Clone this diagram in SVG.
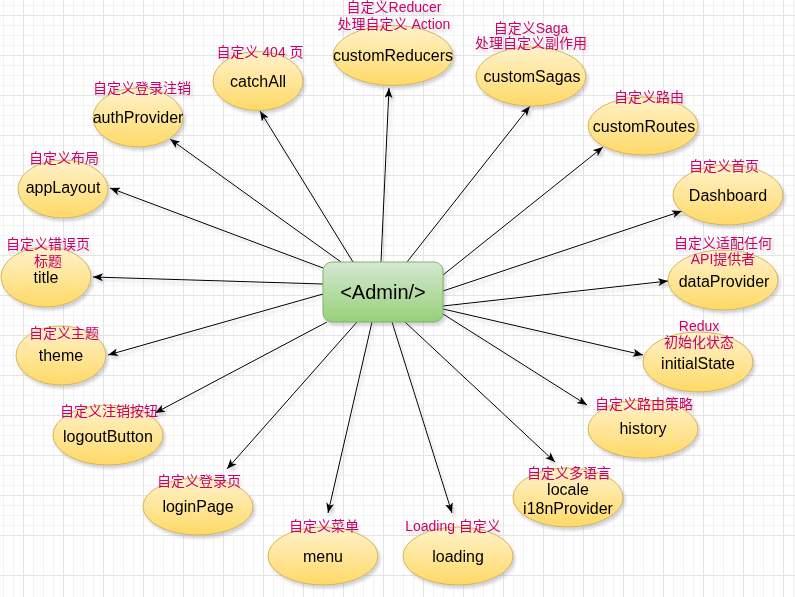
<svg xmlns="http://www.w3.org/2000/svg" width="795" height="597" viewBox="0 0 795 597">
<style>
.el{stroke:#d6b656;stroke-width:1;fill:url(#yg)}
.lbl{font-family:"Liberation Sans",Arial,sans-serif;font-size:16px;fill:#000;text-anchor:middle}
.ann{font-family:"Liberation Sans","Noto Sans CJK SC",sans-serif;font-size:14px;fill:#cc0066;text-anchor:middle}
.edge{stroke:#000;stroke-width:1;fill:none;marker-end:url(#arr)}
.gmin{stroke:#f3f3f3;stroke-width:1;fill:none}
.gmaj{stroke:#e4e4e4;stroke-width:1;fill:none}
</style>
<defs>
<linearGradient id="yg" x1="0" y1="0" x2="0" y2="1">
<stop offset="0" stop-color="#fff2cc"/>
<stop offset="1" stop-color="#ffd966"/>
</linearGradient>
<linearGradient id="gg" x1="0" y1="0" x2="0" y2="1">
<stop offset="0" stop-color="#d5e8d4"/>
<stop offset="1" stop-color="#97d077"/>
</linearGradient>
<filter id="sh" filterUnits="userSpaceOnUse" x="0" y="0" width="795" height="597">
<feGaussianBlur in="SourceAlpha" stdDeviation="1.6"/>
<feOffset dx="2" dy="3" result="b"/>
<feFlood flood-color="#6a6a8a" flood-opacity="0.3"/>
<feComposite in2="b" operator="in"/>
<feMerge><feMergeNode/><feMergeNode in="SourceGraphic"/></feMerge>
</filter>
<marker id="arr" markerUnits="userSpaceOnUse" viewBox="0 0 10 8" refX="10" refY="4" markerWidth="10" markerHeight="8" orient="auto">
<path d="M0,0 L10,4 L0,8 L2.5,4 Z" fill="#000"/>
</marker>
</defs>
<rect width="795" height="597" fill="#fff"/>
<g id="grid">
<path class="gmin" d="M3.5 0v597m10-597v597m10-597v597m10-597v597m10-597v597m10-597v597m10-597v597m10-597v597m10-597v597m10-597v597m10-597v597m10-597v597m10-597v597m10-597v597m10-597v597m10-597v597m10-597v597m10-597v597m10-597v597m10-597v597m10-597v597m10-597v597m10-597v597m10-597v597m10-597v597m10-597v597m10-597v597m10-597v597m10-597v597m10-597v597m10-597v597m10-597v597m10-597v597m10-597v597m10-597v597m10-597v597m10-597v597m10-597v597m10-597v597m10-597v597m10-597v597m10-597v597m10-597v597m10-597v597m10-597v597m10-597v597m10-597v597m10-597v597m10-597v597m10-597v597m10-597v597m10-597v597m10-597v597m10-597v597m10-597v597m10-597v597m10-597v597m10-597v597m10-597v597m10-597v597m10-597v597m10-597v597m10-597v597m10-597v597m10-597v597m10-597v597m10-597v597m10-597v597m10-597v597m10-597v597m10-597v597m10-597v597m10-597v597m10-597v597m10-597v597m10-597v597m10-597v597m10-597v597m10-597v597m10-597v597m10-597v597m10-597v597m10-597v597m10-597v597m10-597v597"/>
<path class="gmin" d="M0 5.5h795m-795 10h795m-795 10h795m-795 10h795m-795 10h795m-795 10h795m-795 10h795m-795 10h795m-795 10h795m-795 10h795m-795 10h795m-795 10h795m-795 10h795m-795 10h795m-795 10h795m-795 10h795m-795 10h795m-795 10h795m-795 10h795m-795 10h795m-795 10h795m-795 10h795m-795 10h795m-795 10h795m-795 10h795m-795 10h795m-795 10h795m-795 10h795m-795 10h795m-795 10h795m-795 10h795m-795 10h795m-795 10h795m-795 10h795m-795 10h795m-795 10h795m-795 10h795m-795 10h795m-795 10h795m-795 10h795m-795 10h795m-795 10h795m-795 10h795m-795 10h795m-795 10h795m-795 10h795m-795 10h795m-795 10h795m-795 10h795m-795 10h795m-795 10h795m-795 10h795m-795 10h795m-795 10h795"/>
<path class="gmaj" d="M23.5 0v597m40-597v597m40-597v597m40-597v597m40-597v597m40-597v597m40-597v597m40-597v597m40-597v597m40-597v597m40-597v597m40-597v597m40-597v597m40-597v597m40-597v597m40-597v597m40-597v597m40-597v597m40-597v597m40-597v597"/>
<path class="gmaj" d="M0 15.5h795m-795 40h795m-795 40h795m-795 40h795m-795 40h795m-795 40h795m-795 40h795m-795 40h795m-795 40h795m-795 40h795m-795 40h795m-795 40h795m-795 40h795m-795 40h795m-795 40h795"/>
</g>

<g id="connectors" filter="url(#sh)">
<line class="edge" x1="323" y1="268" x2="110" y2="188"/>
<line class="edge" x1="341" y1="262" x2="170" y2="139"/>
<line class="edge" x1="353" y1="262" x2="260" y2="111"/>
<line class="edge" x1="381" y1="262" x2="389" y2="88"/>
<line class="edge" x1="407" y1="262" x2="530" y2="106"/>
<line class="edge" x1="443" y1="275" x2="603" y2="147"/>
<line class="edge" x1="443" y1="291" x2="682" y2="211"/>
<line class="edge" x1="443" y1="306" x2="668" y2="281"/>
<line class="edge" x1="443" y1="309" x2="643" y2="355"/>
<line class="edge" x1="443" y1="314" x2="587" y2="405"/>
<line class="edge" x1="405" y1="322" x2="555" y2="462"/>
<line class="edge" x1="392" y1="322" x2="452" y2="513"/>
<line class="edge" x1="372" y1="322" x2="328" y2="513"/>
<line class="edge" x1="357" y1="322" x2="227" y2="469"/>
<line class="edge" x1="327" y1="322" x2="155" y2="413"/>
<line class="edge" x1="323" y1="294" x2="108" y2="355"/>
<line class="edge" x1="323" y1="284" x2="93" y2="277"/>
</g>

<g id="admin" filter="url(#sh)">
<rect x="323" y="262" width="120" height="60" rx="9" fill="url(#gg)" stroke="#82b366"/>
<text x="383" y="299" class="lbl" style="font-size:20px">&lt;Admin/&gt;</text>
</g>

<g id="appLayout" filter="url(#sh)">
<ellipse class="el" cx="63" cy="189" rx="45" ry="29"/>
<text x="63" y="193" class="lbl">appLayout</text>
<text x="64" y="163" class="ann">自定义布局</text>
</g>
<g id="authProvider" filter="url(#sh)">
<ellipse class="el" cx="138" cy="117.5" rx="45" ry="29.5"/>
<text x="138" y="123" class="lbl">authProvider</text>
<text x="142" y="93" class="ann">自定义登录注销</text>
</g>
<g id="catchAll" filter="url(#sh)">
<ellipse class="el" cx="258" cy="81" rx="45" ry="29.5"/>
<text x="258" y="87" class="lbl">catchAll</text>
<text x="260" y="57" class="ann">自定义 404 页</text>
</g>
<g id="customReducers" filter="url(#sh)">
<ellipse class="el" cx="393" cy="55.5" rx="60" ry="30"/>
<text x="393" y="61" class="lbl">customReducers</text>
<text x="394" y="12" class="ann">自定义Reducer</text>
<text x="394" y="29" class="ann">处理自定义 Action</text>
</g>
<g id="customSagas" filter="url(#sh)">
<ellipse class="el" cx="531" cy="76.5" rx="55" ry="29.5"/>
<text x="532" y="82" class="lbl">customSagas</text>
<text x="531" y="33" class="ann">自定义Saga</text>
<text x="531" y="48" class="ann">处理自定义副作用</text>
</g>
<g id="customRoutes" filter="url(#sh)">
<ellipse class="el" cx="643" cy="126" rx="55" ry="29"/>
<text x="644" y="132" class="lbl">customRoutes</text>
<text x="649" y="102" class="ann">自定义路由</text>
</g>
<g id="Dashboard" filter="url(#sh)">
<ellipse class="el" cx="728" cy="195" rx="55" ry="30"/>
<text x="728" y="201" class="lbl">Dashboard</text>
<text x="724" y="171" class="ann">自定义首页</text>
</g>
<g id="title" filter="url(#sh)">
<ellipse class="el" cx="46" cy="277" rx="45" ry="30"/>
<text x="46" y="283" class="lbl">title</text>
<text x="48" y="249" class="ann">自定义错误页</text>
<text x="48" y="266" class="ann">标题</text>
</g>
<g id="dataProvider" filter="url(#sh)">
<ellipse class="el" cx="723" cy="280" rx="55" ry="30"/>
<text x="724" y="287" class="lbl">dataProvider</text>
<text x="723" y="248" class="ann">自定义适配任何</text>
<text x="723" y="264" class="ann">API提供者</text>
</g>
<g id="theme" filter="url(#sh)">
<ellipse class="el" cx="61" cy="355.5" rx="45" ry="29.5"/>
<text x="61" y="361" class="lbl">theme</text>
<text x="64" y="338" class="ann">自定义主题</text>
</g>
<g id="initialState" filter="url(#sh)">
<ellipse class="el" cx="698" cy="362" rx="55" ry="30"/>
<text x="698" y="369" class="lbl">initialState</text>
<text x="699" y="331" class="ann">Redux</text>
<text x="699" y="347" class="ann">初始化状态</text>
</g>
<g id="logoutButton" filter="url(#sh)">
<ellipse class="el" cx="108" cy="435" rx="55" ry="30"/>
<text x="108" y="442" class="lbl">logoutButton</text>
<text x="109" y="416" class="ann">自定义注销按钮</text>
</g>
<g id="history" filter="url(#sh)">
<ellipse class="el" cx="643" cy="429" rx="55" ry="29"/>
<text x="643" y="434" class="lbl">history</text>
<text x="644" y="409" class="ann">自定义路由策略</text>
</g>
<g id="loginPage" filter="url(#sh)">
<ellipse class="el" cx="198" cy="506.5" rx="55" ry="28.5"/>
<text x="198" y="512" class="lbl">loginPage</text>
<text x="199" y="486" class="ann">自定义登录页</text>
</g>
<g id="locale" filter="url(#sh)">
<ellipse class="el" cx="568" cy="497.5" rx="55" ry="29.5"/>
<text x="568" y="495" class="lbl">locale</text>
<text x="568" y="514" class="lbl">i18nProvider</text>
<text x="569" y="478" class="ann">自定义多语言</text>
</g>
<g id="menu" filter="url(#sh)">
<ellipse class="el" cx="323" cy="556" rx="55" ry="29"/>
<text x="323" y="562" class="lbl">menu</text>
<text x="324" y="531" class="ann">自定义菜单</text>
</g>
<g id="loading" filter="url(#sh)">
<ellipse class="el" cx="458" cy="556" rx="55" ry="29"/>
<text x="458" y="562" class="lbl">loading</text>
<text x="453" y="531" class="ann">Loading 自定义</text>
</g>
</svg>
